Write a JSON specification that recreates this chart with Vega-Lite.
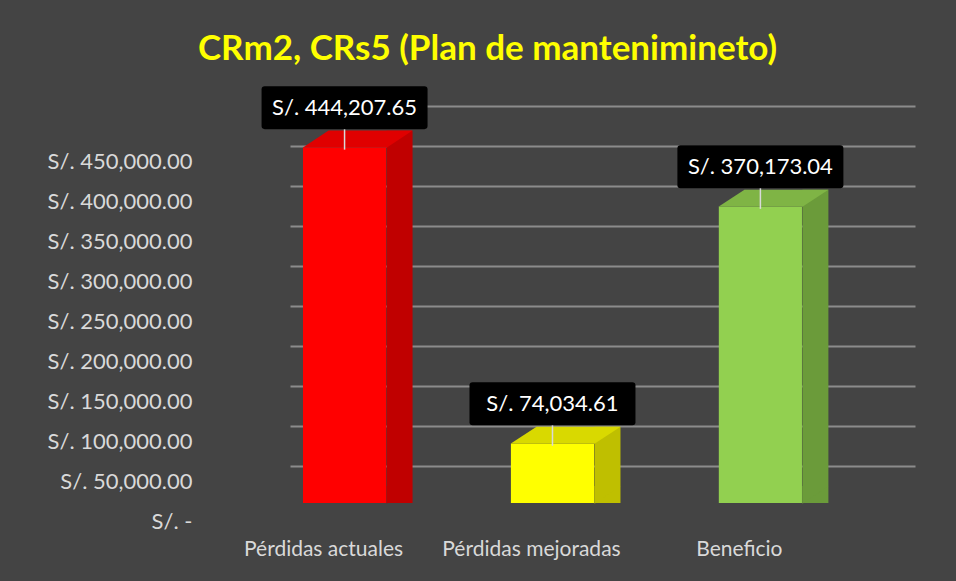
{
  "$schema": "https://vega.github.io/schema/vega-lite/v6.json",
  "autosize": "none",
  "width": 625,
  "height": 360,
  "padding": {"left": 290, "top": 143, "right": 41, "bottom": 78},
  "background": "#444444",
  "config": {"view": {"stroke": null}, "font": "Lato"},
  "title": {"text": "CRm2, CRs5 (Plan de mantenimineto)", "color": "#FFFF00", "font": "Lato", "fontSize": 35, "fontWeight": "bold", "dx": -115, "offset": 19},
  "data": {"values": [
    {"cat": "Pérdidas actuales", "val": 444207.65},
    {"cat": "Pérdidas mejoradas", "val": 74034.61},
    {"cat": "Beneficio", "val": 370173.04}
  ]},
  "transform": [{"calculate": "'S/. ' + format(datum.val, ',.2f')", "as": "lbl"}],
  "encoding": {
    "x": {"field": "cat", "type": "nominal", "sort": null,
      "scale": {"paddingInner": 0.6, "paddingOuter": 0.303, "align": 0.103},
      "axis": {"title": null, "labelAngle": 0, "labelFont": "Lato", "labelFontSize": 21, "labelColor": "#d9d9d9", "labelOffset": -21, "labelPadding": 35, "domain": false, "ticks": false, "grid": false}},
    "y": {"field": "val", "type": "quantitative",
      "scale": {"domain": [0, 450000], "nice": false},
      "axis": {"title": null, "values": [0, 50000, 100000, 150000, 200000, 250000, 300000, 350000, 400000, 450000],
        "labelExpr": "datum.value == 0 ? 'S/. -' : 'S/. ' + format(datum.value, ',.2f')",
        "labelOverlap": false,
        "labelFont": "Lato", "labelFontSize": 22, "labelColor": "#d9d9d9", "labelPadding": 98,
        "tickOffset": -37, "labelOffset": 55, "domain": false, "ticks": false,
        "grid": true, "gridColor": "#8c8c8c", "gridWidth": 1.8}}
  },
  "layer": [
    {
      "mark": {"type": "bar", "width": 26, "xOffset": 55, "yOffset": -17},
      "encoding": {
        "y2": {"datum": 0},
        "color": {"field": "cat", "type": "nominal", "legend": null,
          "scale": {"domain": ["Pérdidas actuales", "Pérdidas mejoradas", "Beneficio"], "range": ["#C00000", "#BFBF00", "#6B9B3A"]}}
      }
    },
    {
      "mark": {"type": "point", "filled": true, "opacity": 1, "strokeWidth": 0, "size": 7056, "shape": "M1,0.02 L1.62,-0.405 L1,-0.405 Z"},
      "encoding": {
        "y": {"value": "height"},
        "color": {"field": "cat", "type": "nominal", "legend": null,
          "scale": {"domain": ["Pérdidas actuales", "Pérdidas mejoradas", "Beneficio"], "range": ["#C00000", "#BFBF00", "#6B9B3A"]}}
      }
    },
    {
      "mark": {"type": "bar"},
      "encoding": {
        "y2": {"datum": 0},
        "fill": {"field": "cat", "type": "nominal", "legend": null,
          "scale": {"domain": ["Pérdidas actuales", "Pérdidas mejoradas", "Beneficio"], "range": ["#FF0000", "#FFFF00", "#92D050"]}}
      }
    },
    {
      "mark": {"type": "point", "filled": true, "opacity": 1, "strokeWidth": 0, "size": 7056, "shape": "M-1,0 L1,0 L1.62,-0.405 L-0.38,-0.405 Z"},
      "encoding": {
        "fill": {"field": "cat", "type": "nominal", "legend": null,
          "scale": {"domain": ["Pérdidas actuales", "Pérdidas mejoradas", "Beneficio"], "range": ["#E00000", "#D9D900", "#7FB445"]}}
      }
    },
    {
      "mark": {"type": "rule", "color": "#d9d9d9", "strokeWidth": 1.5, "yOffset": -19, "y2Offset": 2},
      "encoding": {
        "y2": {"field": "val"}
      }
    },
    {
      "mark": {"type": "point", "filled": true, "opacity": 1, "strokeWidth": 0, "color": "#000000", "size": 7056, "yOffset": -40,
        "shape": "M-1.9,-0.512 L1.9,-0.512 Q1.976,-0.512 1.976,-0.44 L1.976,0.44 Q1.976,0.512 1.9,0.512 L-1.9,0.512 Q-1.976,0.512 -1.976,0.44 L-1.976,-0.44 Q-1.976,-0.512 -1.9,-0.512 Z"},
      "encoding": {}
    },
    {
      "mark": {"type": "text", "color": "#ffffff", "font": "Lato", "fontSize": 22, "yOffset": -40, "baseline": "middle", "align": "center"},
      "encoding": {
        "text": {"field": "lbl"}
      }
    }
  ],
  "resolve": {"scale": {"color": "independent", "fill": "independent"}}
}
